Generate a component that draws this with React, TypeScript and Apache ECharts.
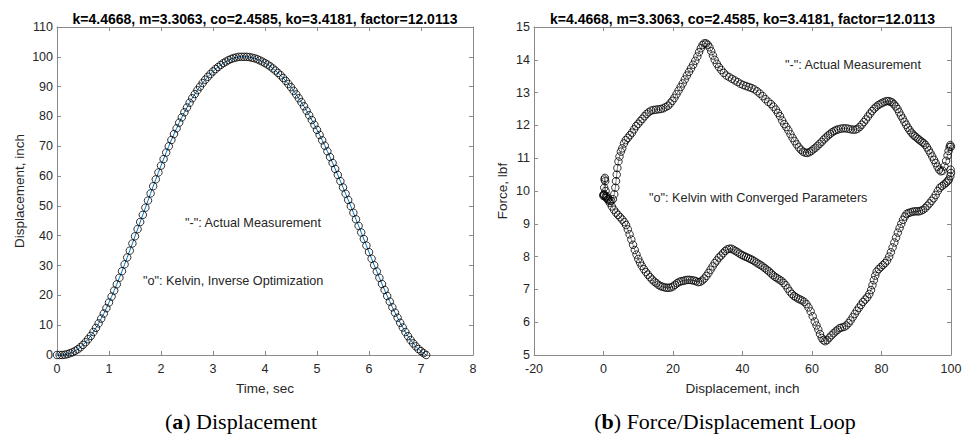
import React, { useEffect, useRef } from "react";
import * as echarts from "echarts";

// ---------- Data ----------
const timeSec = [
  0, 0.05, 0.1, 0.15, 0.2, 0.25, 0.3, 0.35, 0.4, 0.45, 0.5, 0.55, 0.6, 0.65, 0.7, 0.75, 0.8, 0.85, 0.9, 0.95,
  1.0, 1.05, 1.1, 1.15, 1.2, 1.25, 1.3, 1.35, 1.4, 1.45, 1.5, 1.55, 1.6, 1.65, 1.7, 1.75, 1.8, 1.85, 1.9, 1.95,
  2.0, 2.05, 2.1, 2.15, 2.2, 2.25, 2.3, 2.35, 2.4, 2.45, 2.5, 2.55, 2.6, 2.65, 2.7, 2.75, 2.8, 2.85, 2.9, 2.95,
  3.0, 3.05, 3.1, 3.15, 3.2, 3.25, 3.3, 3.35, 3.4, 3.45, 3.5, 3.55, 3.6, 3.65, 3.7, 3.75, 3.8, 3.85, 3.9, 3.95,
  4.0, 4.05, 4.1, 4.15, 4.2, 4.25, 4.3, 4.35, 4.4, 4.45, 4.5, 4.55, 4.6, 4.65, 4.7, 4.75, 4.8, 4.85, 4.9, 4.95,
  5.0, 5.05, 5.1, 5.15, 5.2, 5.25, 5.3, 5.35, 5.4, 5.45, 5.5, 5.55, 5.6, 5.65, 5.7, 5.75, 5.8, 5.85, 5.9, 5.95,
  6.0, 6.05, 6.1, 6.15, 6.2, 6.25, 6.3, 6.35, 6.4, 6.45, 6.5, 6.55, 6.6, 6.65, 6.7, 6.75, 6.8, 6.85, 6.9, 6.95,
  7.0, 7.05, 7.1,
];

const displacementInch = [
  0, 0, 0, 0.1, 0.3, 0.6, 0.9, 1.4, 1.9, 2.6, 3.4, 4.3, 5.3, 6.4, 7.7, 9.1, 10.6, 12.2, 13.9, 15.7,
  17.6, 19.6, 21.6, 23.7, 25.9, 28.1, 30.4, 32.7, 35.0, 37.4, 39.8, 42.2, 44.6, 47.0, 49.4, 51.8, 54.2, 56.6, 58.9, 61.2,
  63.5, 65.7, 67.9, 70.0, 72.1, 74.1, 76.0, 77.9, 79.7, 81.4, 83.0, 84.6, 86.1, 87.5, 88.8, 90.0, 91.2, 92.3, 93.3, 94.2,
  95.1, 95.9, 96.6, 97.3, 97.9, 98.4, 98.9, 99.3, 99.6, 99.8, 100.0, 100.0, 100.0, 100.0, 99.9, 99.7, 99.5, 99.2, 98.8, 98.4,
  97.9, 97.4, 96.8, 96.1, 95.4, 94.6, 93.8, 92.9, 91.9, 90.9, 89.8, 88.6, 87.4, 86.1, 84.8, 83.4, 81.9, 80.4, 78.8, 77.2,
  75.5, 73.8, 72.0, 70.2, 68.3, 66.4, 64.4, 62.4, 60.4, 58.3, 56.2, 54.1, 52.0, 49.9, 47.7, 45.5, 43.3, 41.1, 38.9, 36.7,
  34.5, 32.3, 30.1, 28.0, 25.9, 23.8, 21.8, 19.8, 17.9, 16.0, 14.2, 12.5, 10.8, 9.2, 7.7, 6.3, 5.0, 3.9, 2.9, 2.0,
  1.3, 0.6, 0.0,
];

// Force / displacement loop: outgoing (upper) branch
const upperDisp = [
  0, 0.1, 0.2, 0.3, 0.4, 0.5, 0.6, 0.8, 1.0, 1.3, 1.7, 2.2, 2.7, 3.1, 3.4, 3.6, 3.8, 4.0, 4.3, 4.6,
  5.0, 5.4, 5.9, 6.4, 7.0, 7.6, 8.2, 8.8, 9.4, 10.0, 10.6, 11.2, 11.8, 12.4, 13.0, 13.7, 14.4, 15.1, 15.8, 16.5,
  17.2, 17.9, 18.6, 19.2, 19.8, 20.4, 21.0, 21.6, 22.2, 22.8, 23.4, 24.0, 24.6, 25.2, 25.8, 26.4, 27.0, 27.5, 28.0, 28.5,
  29.0, 29.5, 30.0, 30.5, 31.0, 31.5, 32.0, 32.6, 33.2, 33.9, 34.6, 35.4, 36.2, 37.0, 37.8, 38.6, 39.4, 40.2, 41.0, 41.8,
  42.6, 43.4, 44.2, 45.0, 45.8, 46.6, 47.4, 48.2, 48.9, 49.6, 50.2, 50.8, 51.4, 52.0, 52.6, 53.2, 53.8, 54.4, 55.0, 55.6,
  56.2, 56.8, 57.4, 58.0, 58.6, 59.2, 59.8, 60.4, 61.0, 61.6, 62.2, 62.8, 63.4, 64.0, 64.6, 65.2, 65.8, 66.4, 67.0, 67.6,
  68.3, 69.0, 69.7, 70.4, 71.1, 71.8, 72.5, 73.1, 73.7, 74.3, 74.9, 75.5, 76.1, 76.7, 77.3, 77.9, 78.5, 79.1, 79.7, 80.3,
  80.9, 81.5, 82.1, 82.6, 83.1, 83.6, 84.1, 84.6, 85.1, 85.6, 86.1, 86.6, 87.1, 87.6, 88.1, 88.6, 89.1, 89.6, 90.1, 90.6,
  91.1, 91.6, 92.1, 92.6, 93.1, 93.6, 94.1, 94.6, 95.1, 95.6, 96.1, 96.6, 97.1, 97.6, 98.1, 98.6, 99.0, 99.3, 99.6, 99.8,
  100.0, 100.1, 100.2, 100.1, 99.9, 100.0, 99.8,
];
const upperForce = [
  9.85, 9.9, 10.1, 10.35, 10.4, 10.3, 10.0, 9.85, 9.8, 9.75, 9.7, 9.7, 9.75, 9.9, 10.1, 10.3, 10.5, 10.7, 10.9, 11.05,
  11.2, 11.3, 11.45, 11.55, 11.62, 11.7, 11.78, 11.88, 11.98, 12.05, 12.13, 12.2, 12.28, 12.35, 12.4, 12.45, 12.47, 12.48, 12.49, 12.5,
  12.52, 12.56, 12.6, 12.67, 12.75, 12.84, 12.95, 13.06, 13.17, 13.28, 13.4, 13.52, 13.63, 13.74, 13.85, 13.97, 14.1, 14.23, 14.35, 14.45,
  14.5, 14.5, 14.46, 14.38, 14.26, 14.13, 14.0, 13.88, 13.78, 13.69, 13.6, 13.52, 13.47, 13.42, 13.37, 13.32, 13.27, 13.23, 13.2, 13.17,
  13.14, 13.1, 13.04, 12.97, 12.89, 12.8, 12.72, 12.65, 12.57, 12.48, 12.38, 12.28, 12.15, 12.04, 11.95, 11.85, 11.73, 11.62, 11.52, 11.42,
  11.33, 11.26, 11.2, 11.17, 11.16, 11.18, 11.22, 11.27, 11.32, 11.38, 11.44, 11.5, 11.57, 11.63, 11.69, 11.74, 11.79, 11.83, 11.86, 11.88,
  11.9, 11.91, 11.91, 11.9, 11.88, 11.87, 11.87, 11.9, 11.95, 12.02, 12.1, 12.18, 12.27, 12.36, 12.44, 12.51, 12.57, 12.62, 12.66, 12.69,
  12.72, 12.74, 12.74, 12.72, 12.7, 12.64, 12.58, 12.5, 12.4, 12.3, 12.21, 12.11, 12.02, 11.93, 11.85, 11.78, 11.72, 11.67, 11.63, 11.58,
  11.54, 11.5, 11.46, 11.41, 11.33, 11.24, 11.15, 11.05, 10.95, 10.85, 10.74, 10.65, 10.6, 10.62, 10.75, 10.92, 11.08, 11.22, 11.34, 11.4,
  11.35, 11.2, 11.0, 10.8, 10.65, 10.55, 10.45,
];

// Force / displacement loop: returning (lower) branch
const lowerDisp = [
  99.4, 99.0, 98.6, 98.0, 97.4, 96.8, 96.2, 95.6, 95.0, 94.4, 93.8, 93.2, 92.6, 92.0, 91.4, 90.8, 90.2, 89.6, 89.0, 88.4,
  87.8, 87.2, 86.7, 86.2, 85.7, 85.2, 84.7, 84.2, 83.7, 83.2, 82.7, 82.2, 81.6, 81.0, 80.4, 79.8, 79.2, 78.6, 78.2, 77.8,
  77.4, 77.0, 76.5, 75.9, 75.3, 74.7, 74.1, 73.5, 72.9, 72.3, 71.7, 71.1, 70.5, 69.9, 69.3, 68.6, 68.0, 67.4, 66.8, 66.2,
  65.6, 65.0, 64.4, 63.8, 63.3, 62.8, 62.3, 61.8, 61.3, 60.8, 60.2, 59.6, 59.0, 58.4, 57.8, 57.2, 56.6, 56.0, 55.4, 54.8,
  54.2, 53.6, 53.0, 52.4, 51.8, 51.2, 50.6, 50.0, 49.4, 48.8, 48.2, 47.6, 47.0, 46.4, 45.8, 45.2, 44.6, 44.0, 43.4, 42.8,
  42.2, 41.6, 41.0, 40.4, 39.8, 39.2, 38.6, 38.0, 37.4, 36.8, 36.2, 35.6, 35.0, 34.4, 33.8, 33.2, 32.6, 32.0, 31.4, 30.8,
  30.2, 29.6, 29.0, 28.4, 27.8, 27.2, 26.6, 26.0, 25.4, 24.8, 24.2, 23.6, 23.0, 22.4, 21.8, 21.2, 20.6, 20.0, 19.4, 18.8,
  18.2, 17.6, 17.0, 16.4, 15.8, 15.2, 14.6, 14.0, 13.4, 12.8, 12.2, 11.6, 11.0, 10.5, 10.0, 9.5, 9.0, 8.5, 8.0, 7.5,
  7.0, 6.5, 6.0, 5.4, 4.8, 4.2, 3.6, 3.0, 2.4, 1.8, 1.2, 0.6, 0.2, 0.0,
];
const lowerForce = [
  10.35, 10.3, 10.25, 10.2, 10.15, 10.1, 10.0, 9.88, 9.78, 9.7, 9.62, 9.55, 9.48, 9.43, 9.4, 9.38, 9.38, 9.38, 9.37, 9.35,
  9.33, 9.3, 9.22, 9.12, 9.0, 8.87, 8.73, 8.58, 8.43, 8.28, 8.13, 8.0, 7.88, 7.8, 7.74, 7.68, 7.62, 7.54, 7.42, 7.28,
  7.13, 6.98, 6.86, 6.76, 6.69, 6.62, 6.53, 6.44, 6.35, 6.25, 6.15, 6.05, 5.97, 5.9, 5.86, 5.84, 5.82, 5.77, 5.72, 5.66,
  5.6, 5.53, 5.46, 5.42, 5.45, 5.52, 5.64, 5.78, 5.9, 6.02, 6.18, 6.33, 6.45, 6.55, 6.62, 6.66, 6.69, 6.72, 6.76, 6.8,
  6.86, 6.94, 7.03, 7.13, 7.2, 7.26, 7.3, 7.34, 7.38, 7.43, 7.49, 7.55, 7.6, 7.65, 7.7, 7.74, 7.78, 7.82, 7.86, 7.9,
  7.93, 7.96, 7.99, 8.02, 8.05, 8.09, 8.13, 8.17, 8.21, 8.24, 8.24, 8.22, 8.17, 8.1, 8.03, 7.97, 7.88, 7.8, 7.7, 7.6,
  7.5, 7.41, 7.33, 7.27, 7.23, 7.22, 7.25, 7.27, 7.28, 7.29, 7.29, 7.28, 7.26, 7.25, 7.23, 7.19, 7.14, 7.09, 7.06, 7.05,
  7.05, 7.06, 7.08, 7.1, 7.14, 7.19, 7.24, 7.3, 7.37, 7.45, 7.53, 7.62, 7.72, 7.82, 7.93, 8.06, 8.2, 8.36, 8.52, 8.68,
  8.83, 8.96, 9.05, 9.13, 9.2, 9.27, 9.34, 9.43, 9.53, 9.64, 9.74, 9.81, 9.86, 9.88,
];

const timeTicks = { min: 0, max: 8, step: 1 };
const dispTicks = { min: 0, max: 110, step: 10 };
const loopXTicks = { min: -20, max: 100, step: 20 };
const forceTicks = { min: 5, max: 15, step: 1 };

const titleText = "k=4.4668, m=3.3063, co=2.4585, ko=3.4181, factor=12.0113";

// ---------- Chart ----------
const SANS = "'Liberation Sans', Arial, Helvetica, sans-serif";
const SERIF = "'Liberation Serif', 'Times New Roman', serif";
const AXIS_GRAY = "#8a8a8a";
const LABEL = "#262626";

function axisBase(range: { min: number; max: number; step: number }) {
  return {
    type: "value" as const,
    min: range.min,
    max: range.max,
    interval: range.step,
    splitLine: { show: false },
    axisLine: { show: true, onZero: false, lineStyle: { color: AXIS_GRAY, width: 1 } },
    axisTick: { show: true, inside: true, length: 4, lineStyle: { color: AXIS_GRAY, width: 1 } },
  };
}

function mainX(range: any, gridIndex: number, name: string) {
  return {
    ...axisBase(range),
    gridIndex,
    position: "bottom",
    name,
    nameLocation: "middle",
    nameGap: 26,
    nameTextStyle: { color: LABEL, fontSize: 13.5, fontFamily: SANS },
    axisLabel: { color: LABEL, fontSize: 12.5, fontFamily: SANS, margin: 7 },
  };
}
function mirrorX(range: any, gridIndex: number) {
  return { ...axisBase(range), gridIndex, position: "top", axisLabel: { show: false } };
}
function mainY(range: any, gridIndex: number, name: string, gap: number) {
  return {
    ...axisBase(range),
    gridIndex,
    position: "left",
    name,
    nameLocation: "middle",
    nameGap: gap,
    nameTextStyle: { color: LABEL, fontSize: 13.5, fontFamily: SANS },
    axisLabel: { color: LABEL, fontSize: 12.5, fontFamily: SANS, margin: 4 },
  };
}
function mirrorY(range: any, gridIndex: number) {
  return { ...axisBase(range), gridIndex, position: "right", axisLabel: { show: false } };
}

const ring = {
  symbol: "circle",
  symbolSize: 7.5,
  itemStyle: { color: "rgba(0,0,0,0)", borderColor: "#000000", borderWidth: 1 },
};

function textEl(text: string, x: number, y: number, extra: any = {}) {
  return {
    type: "text",
    x,
    y,
    silent: true,
    style: {
      text,
      fill: LABEL,
      fontSize: 12.7,
      fontFamily: SANS,
      align: "left",
      verticalAlign: "middle",
      ...extra,
    },
  };
}

export default function App() {
  const ref = useRef<HTMLDivElement>(null);

  useEffect(() => {
    if (!ref.current) return;
    const chart = echarts.init(ref.current, undefined, { renderer: "svg" });

    const dispData = timeSec.map((t, i) => [t, displacementInch[i]]);
    const loopDisp = upperDisp.concat(lowerDisp);
    const loopForce = upperForce.concat(lowerForce);
    const loopData = loopDisp.map((d, i) => [d, loopForce[i]]);

    chart.setOption({
      animation: false,
      backgroundColor: "#ffffff",
      grid: [
        { left: 57, top: 27, width: 416, height: 328 },
        { left: 534, top: 27, width: 417, height: 328 },
      ],
      xAxis: [
        mainX(timeTicks, 0, "Time, sec"),
        mirrorX(timeTicks, 0),
        mainX(loopXTicks, 1, "Displacement, inch"),
        mirrorX(loopXTicks, 1),
      ],
      yAxis: [
        mainY(dispTicks, 0, "Displacement, inch", 31),
        mirrorY(dispTicks, 0),
        mainY(forceTicks, 1, "Force, lbf", 25),
        mirrorY(forceTicks, 1),
      ],
      series: [
        {
          type: "line",
          xAxisIndex: 0,
          yAxisIndex: 0,
          data: dispData,
          showSymbol: false,
          lineStyle: { color: "#0072BD", width: 1 },
          z: 2,
        },
        {
          type: "scatter",
          xAxisIndex: 0,
          yAxisIndex: 0,
          data: dispData,
          ...ring,
          z: 3,
        },
        {
          type: "line",
          xAxisIndex: 2,
          yAxisIndex: 2,
          data: loopData,
          showSymbol: false,
          lineStyle: { color: "#333333", width: 0.6 },
          z: 2,
        },
        {
          type: "scatter",
          xAxisIndex: 2,
          yAxisIndex: 2,
          data: loopData,
          ...ring,
          z: 3,
        },
      ],
      graphic: [
        textEl(titleText, 265, 19, { align: "center", fontWeight: "bold", fontSize: 14, fill: "#000" }),
        textEl(titleText, 742.5, 19, { align: "center", fontWeight: "bold", fontSize: 14, fill: "#000" }),
        textEl('"-": Actual Measurement', 185, 223),
        textEl('"o": Kelvin, Inverse Optimization', 143, 281),
        textEl('"-": Actual Measurement', 785, 65),
        textEl('"o": Kelvin with Converged Parameters', 649, 198),
        {
          type: "text",
          x: 241,
          y: 421,
          silent: true,
          style: {
            text: "({b|a}) Displacement",
            fill: "#000",
            fontSize: 22,
            fontFamily: SERIF,
            align: "center",
            verticalAlign: "middle",
            rich: { b: { fontWeight: "bold", fontSize: 22, fontFamily: SERIF, fill: "#000" } },
          },
        },
        {
          type: "text",
          x: 725,
          y: 421,
          silent: true,
          style: {
            text: "({b|b}) Force/Displacement Loop",
            fill: "#000",
            fontSize: 22,
            fontFamily: SERIF,
            align: "center",
            verticalAlign: "middle",
            rich: { b: { fontWeight: "bold", fontSize: 22, fontFamily: SERIF, fill: "#000" } },
          },
        },
      ],
    });

    return () => chart.dispose();
  }, []);

  return (
    <div
      ref={ref}
      style={{ position: "fixed", left: 0, top: 0, width: 965, height: 436, background: "#fff" }}
    />
  );
}
